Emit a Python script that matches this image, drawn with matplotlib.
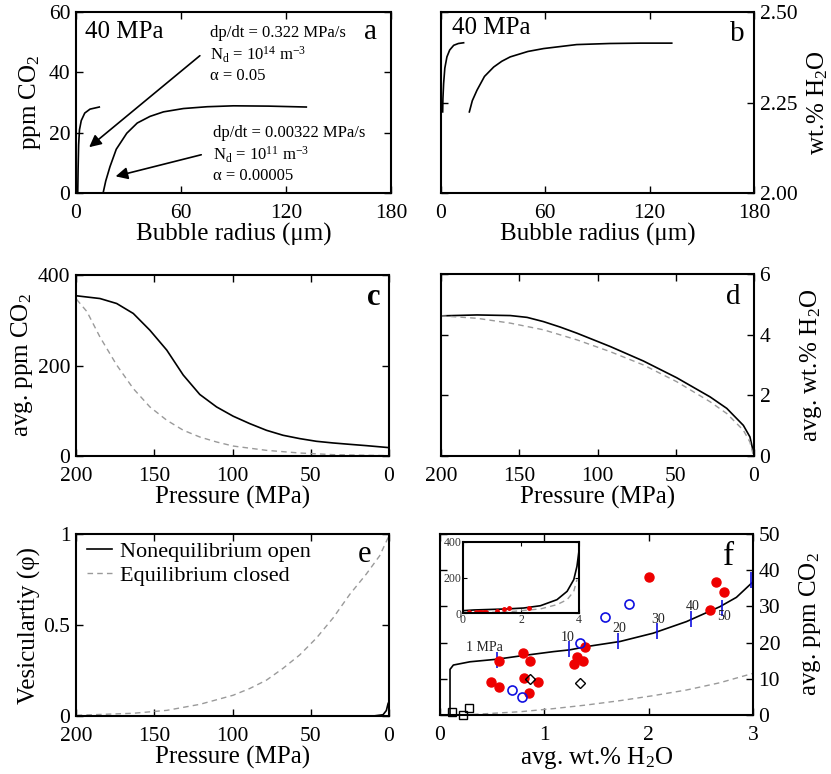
import numpy as np
import matplotlib
matplotlib.use('Agg')
import matplotlib.pyplot as plt

plt.rcParams['font.family'] = ['Liberation Serif', 'DejaVu Serif']
plt.rcParams['mathtext.fontset'] = 'custom'
plt.rcParams['mathtext.rm'] = 'Liberation Serif'
plt.rcParams['mathtext.it'] = 'Liberation Serif:italic'
plt.rcParams['mathtext.default'] = 'rm'

# --- a/b: bubble growth at 40 MPa (fast and slow decompression)
r_fast_co2 = [1.0, 1.1, 1.2, 1.5, 2.0, 3.0, 5.0, 8.0, 13.3]
co2_fast = [0.0, 4.0, 8.0, 16.0, 21.0, 24.0, 26.5, 27.8, 28.5]
r_slow_co2 = [15.6, 17.0, 19.4, 23.0, 29.0, 35.0, 42.3, 50.0, 61.4, 75.0, 90.0, 110.0, 131.6]
co2_slow = [0.3, 4.0, 8.7, 14.5, 19.8, 23.2, 25.4, 26.9, 28.0, 28.6, 28.9, 28.8, 28.5]

r_fast_h2o = [0.96, 1.1, 1.5, 2.2, 3.4, 5.0, 7.3, 10.0, 13.0]
h2o_fast = [2.224, 2.26, 2.302, 2.345, 2.376, 2.395, 2.408, 2.413, 2.415]
r_slow_h2o = [16.3, 18.0, 20.7, 25.0, 30.3, 35.0, 39.8, 50.0, 59.0, 78.0, 97.0, 115.0, 132.7]
h2o_slow = [2.224, 2.255, 2.284, 2.322, 2.348, 2.364, 2.376, 2.391, 2.399, 2.410, 2.413, 2.414, 2.414]

# --- c/d/e: averages against pressure
p_c = [199.6, 184.7, 174.0, 163.4, 152.8, 142.0, 131.5, 120.9, 110.2, 99.6, 89.0, 78.3,
       67.7, 57.0, 46.4, 35.7, 25.1, 14.5, 0.0]
co2_open = [354, 348, 337, 315, 278, 234, 179, 136, 108.5, 88, 71.6, 56.8,
            45.8, 38.4, 32.5, 28.8, 25.8, 22.9, 18.5]
p_c_eq = [199.6, 193.0, 184.7, 174.0, 163.4, 152.8, 142.0, 131.5, 120.9, 110.2, 99.6,
          78.3, 57.0, 35.7, 0.0]
co2_closed = [346, 319, 263, 201, 149, 108.5, 79, 57, 42, 31, 22, 12.5, 6.6, 3.0, 0.7]

p_d = [200.0, 177.0, 155.7, 145.0, 134.5, 123.8, 113.2, 91.9, 70.6, 49.4, 28.1, 17.4, 6.8, 2.6, 0.4]
h2o_open = [4.62, 4.65, 4.63, 4.57, 4.43, 4.25, 4.05, 3.61, 3.13, 2.58, 1.95, 1.57, 1.01, 0.63, 0.13]
p_d_eq = [200.0, 177.0, 155.7, 134.5, 113.2, 91.9, 70.6, 49.4, 28.1, 17.4, 6.8, 2.6, 0.4]
h2o_closed = [4.62, 4.54, 4.38, 4.16, 3.83, 3.44, 3.0, 2.45, 1.79, 1.40, 0.85, 0.46, 0.02]

p_e_eq = [199.6, 163.4, 142.0, 120.9, 99.6, 89.0, 78.3, 67.7, 57.0, 46.4, 35.7, 25.1, 14.5, 6.0, 0.0]
phi_closed = [0.004, 0.015, 0.031, 0.064, 0.114, 0.151, 0.197, 0.262, 0.336, 0.428, 0.539,
              0.668, 0.78, 0.88, 0.99]
p_e = [200.0, 10.0, 3.8, 1.7, 0.6, 0.2]
phi_open = [0.0, 0.0, 0.007, 0.03, 0.068, 0.075]

# --- f: degassing paths with melt inclusion data
h2o_path = [0.096, 0.096, 0.128, 0.287, 0.543, 0.766, 1.085, 1.245, 1.404, 1.724, 2.043,
            2.362, 2.681, 2.841, 3.0]
co2_path = [0.3, 12.6, 13.8, 14.7, 15.4, 16.3, 17.5, 18.0, 18.9, 20.3, 22.6, 25.8, 29.9, 32.5, 36.8]
h2o_eq_path = [0.223, 0.766, 1.085, 1.404, 1.724, 2.043, 2.362, 2.681, 3.0]
co2_eq_path = [0.0, 0.9, 1.75, 2.76, 3.96, 5.34, 6.9, 8.9, 11.5]

p_marks = ['1 MPa', '10', '20', '30', '40', '50', '']
h2o_marks = [0.543, 1.238, 1.708, 2.084, 2.41, 2.707, 2.978]
co2_marks = [15.3, 18.1, 20.4, 23.2, 26.4, 29.6, 37.2]
label_x = [0.43, 1.22, 1.72, 2.09, 2.42, 2.72]
label_y = [18.7, 21.4, 23.9, 26.5, 29.9, 27.3]

red_h2o = [0.488, 0.565, 0.568, 0.792, 0.804, 0.862, 0.852, 0.942,
           1.283, 1.309, 1.366, 1.385, 2.004, 2.585, 2.649, 2.719]
red_co2 = [9.0, 7.8, 15.0, 17.0, 10.1, 15.0, 6.0, 9.0,
           14.0, 16.1, 15.0, 18.9, 38.0, 29.0, 36.8, 34.1]
blue_h2o = [0.686, 0.782, 1.341, 1.586, 1.813]
blue_co2 = [6.9, 5.1, 20.0, 27.0, 30.8]
dia_h2o = [0.862, 1.341]
dia_co2 = [9.9, 8.9]
sq_h2o = [0.118, 0.223, 0.281]
sq_co2 = [0.9, 0.0, 2.0]

# inset of f over the full range
ins_h2o = [0.0, 0.37, 1.52, 2.09, 2.67, 3.24, 3.59, 3.82, 3.93, 3.99]
ins_co2 = [13, 17, 23, 28, 41, 75, 122, 188, 263, 338]
ins_h2o_eq = [0.0, 1.52, 2.67, 3.24, 3.59, 3.82, 3.93]
ins_co2_eq = [0, 6, 23, 47, 75, 122, 188]
ins_red_h2o = [0.22, 0.45, 0.55, 0.62, 0.73, 0.8, 1.17, 1.42, 1.59, 2.28]
ins_red_co2 = [3, 5, 6, 6, 7, 6, 12, 25, 26, 28]

W, H = 831, 774
fig = plt.figure(figsize=(W / 100, H / 100), dpi=100)


def px_axes(l, t, r, b):
    return fig.add_axes([l / W, 1 - b / H, (r - l) / W, (b - t) / H])


def style(ax, right=False):
    ax.tick_params(direction='in', top=True, right=True, left=True, bottom=True,
                   length=5, width=1, labelsize=15.5)
    ax.tick_params(axis='x', pad=8)
    ax.tick_params(axis='y', pad=4)
    if right:
        ax.tick_params(labelleft=False, labelright=True)
        ax.yaxis.set_label_position('right')
    for s in ax.spines.values():
        s.set_linewidth(1.5)


gray = '#9a9a9a'
dash = (0, (4, 3))

# a
ax = px_axes(76, 12, 391, 193)
ax.plot(r_fast_co2, co2_fast, 'k-', lw=1.2)
ax.plot(r_slow_co2, co2_slow, 'k-', lw=1.2)
ax.set_xlim(0, 180)
ax.set_ylim(0, 60)
ax.set_xticks([0, 60, 120, 180])
ax.set_yticks([0, 20, 40, 60])
style(ax)
ax.set_xlabel('Bubble radius (μm)', fontsize=18, labelpad=0)
ax.set_ylabel('ppm CO$_2$', fontsize=18, labelpad=4)
ax.text(0.029, 0.89, '40 MPa', transform=ax.transAxes, fontsize=18, va='center')
ax.text(0.935, 0.89, 'a', transform=ax.transAxes, fontsize=21, va='center', ha='center')
ax.annotate('', xy=(6.3, 14.6), xytext=(72.0, 46.1),
            arrowprops=dict(arrowstyle='-|>', color='k', lw=1.2, mutation_scale=18))
ax.annotate('', xy=(21.1, 5.3), xytext=(73.1, 12.9),
            arrowprops=dict(arrowstyle='-|>', color='k', lw=1.2, mutation_scale=18))
ax.text(76.6, 55.7, 'dp/dt = 0.322 MPa/s\nN$_\\mathregular{d}$ = 10$^{14}$ m$^{-3}$\nα = 0.05',
        fontsize=12, va='top', ha='left', linespacing=1.25)
ax.text(78.5, 22.5, 'dp/dt = 0.00322 MPa/s\nN$_\\mathregular{d}$ = 10$^{11}$ m$^{-3}$\nα = 0.00005',
        fontsize=12, va='top', ha='left', linespacing=1.25)

# b
ax = px_axes(441, 12, 754, 193)
ax.plot(r_fast_h2o, h2o_fast, 'k-', lw=1.2)
ax.plot(r_slow_h2o, h2o_slow, 'k-', lw=1.2)
ax.set_xlim(0, 180)
ax.set_ylim(2.0, 2.5)
ax.set_xticks([0, 60, 120, 180])
ax.set_yticks([2.0, 2.25, 2.5])
ax.set_yticklabels(['2.00', '2.25', '2.50'])
style(ax, right=True)
ax.set_xlabel('Bubble radius (μm)', fontsize=18, labelpad=0)
ax.set_ylabel('wt.% H$_2$O', fontsize=18, labelpad=6)
ax.text(0.034, 0.91, '40 MPa', transform=ax.transAxes, fontsize=18, va='center')
ax.text(0.945, 0.88, 'b', transform=ax.transAxes, fontsize=21, va='center', ha='center')

# c
ax = px_axes(76, 275, 389, 456)
ax.plot(p_c, co2_open, 'k-', lw=1.2)
ax.plot(p_c_eq, co2_closed, color=gray, ls=dash, lw=1.0)
ax.set_xlim(200, 0)
ax.set_ylim(0, 400)
ax.set_xticks([200, 150, 100, 50, 0])
ax.set_yticks([0, 200, 400])
style(ax)
ax.set_xlabel('Pressure (MPa)', fontsize=18, labelpad=0)
ax.set_ylabel('avg. ppm CO$_2$', fontsize=18, labelpad=2)
ax.text(0.95, 0.875, 'c', transform=ax.transAxes, fontsize=22, fontweight='bold',
        va='center', ha='center')

# d
ax = px_axes(441, 274, 754, 456)
ax.plot(p_d, h2o_open, 'k-', lw=1.2)
ax.plot(p_d_eq, h2o_closed, color=gray, ls=dash, lw=1.0)
ax.set_xlim(200, 0)
ax.set_ylim(0, 6)
ax.set_xticks([200, 150, 100, 50, 0])
ax.set_yticks([0, 2, 4, 6])
style(ax, right=True)
ax.set_xlabel('Pressure (MPa)', fontsize=18, labelpad=0)
ax.set_ylabel('avg. wt.% H$_2$O', fontsize=18, labelpad=20)
ax.text(0.934, 0.875, 'd', transform=ax.transAxes, fontsize=21, va='center', ha='center')

# e
ax = px_axes(76, 534, 389, 716)
ax.plot(p_e, phi_open, 'k-', lw=1.2, label='Nonequilibrium open')
ax.plot(p_e_eq, phi_closed, color=gray, ls=dash, lw=1.0, label='Equilibrium closed')
ax.set_xlim(200, 0)
ax.set_ylim(0, 1)
ax.set_xticks([200, 150, 100, 50, 0])
ax.set_yticks([0, 0.5, 1])
ax.set_yticklabels(['0', '0.5', '1'])
style(ax)
ax.set_xlabel('Pressure (MPa)', fontsize=18, labelpad=0)
ax.set_ylabel('Vesiculartiy (φ)', fontsize=18, labelpad=2)
ax.legend(loc='upper left', frameon=False, fontsize=16, handlelength=1.1,
          handletextpad=0.4, labelspacing=0.15, borderaxespad=0.1,
          bbox_to_anchor=(0.0, 1.02))
ax.text(0.923, 0.885, 'e', transform=ax.transAxes, fontsize=22, va='center', ha='center')

# f
ax = px_axes(440, 534, 753, 715)
ax.plot(h2o_eq_path, co2_eq_path, color=gray, ls=dash, lw=1.0)
ax.plot(h2o_path, co2_path, 'k-', lw=1.2)
ax.plot(h2o_marks, co2_marks, ls='none', marker='|', color='#1010e0', ms=11, mew=1.2)
for t, x, y in zip(p_marks, label_x, label_y):
    ax.text(x, y, t, fontsize=10, color='#222222', ha='center', va='center')
ax.plot(red_h2o, red_co2, 'o', color='#ee0000', ms=6.5, mec='#ee0000')
ax.plot(blue_h2o, blue_co2, 'o', mfc='none', mec='#1010e0', ms=6.5, mew=1.2)
ax.plot(dia_h2o, dia_co2, 'D', mfc='none', mec='k', ms=5.5, mew=1.0)
ax.plot(sq_h2o, sq_co2, 's', mfc='none', mec='k', ms=5.5, mew=1.0, clip_on=False)
ax.set_xlim(0, 3)
ax.set_ylim(0, 50)
ax.set_xticks([0, 1, 2, 3])
ax.set_yticks([0, 10, 20, 30, 40, 50])
style(ax, right=True)
ax.set_xlabel('avg. wt.% H$_2$O', fontsize=18, labelpad=0)
ax.set_ylabel('avg. ppm CO$_2$', fontsize=18, labelpad=12)
ax.text(0.921, 0.875, 'f', transform=ax.transAxes, fontsize=24, va='center', ha='center')

axi = px_axes(463, 542, 579, 613)
axi.plot(ins_h2o_eq, ins_co2_eq, color=gray, ls=dash, lw=1.0)
axi.plot(ins_h2o, ins_co2, 'k-', lw=1.2)
axi.plot(ins_red_h2o, ins_red_co2, 'o', color='#ee0000', ms=2.5)
axi.set_xlim(0, 4)
axi.set_ylim(0, 400)
axi.set_xticks([0, 2, 4])
axi.set_yticks([0, 200, 400])
axi.tick_params(direction='in', top=True, right=True, length=3, width=0.8,
                labelsize=8.5, labelcolor='#333333', pad=1)
for s in axi.spines.values():
    s.set_linewidth(1.5)

fig.savefig('out.png', dpi=100)
